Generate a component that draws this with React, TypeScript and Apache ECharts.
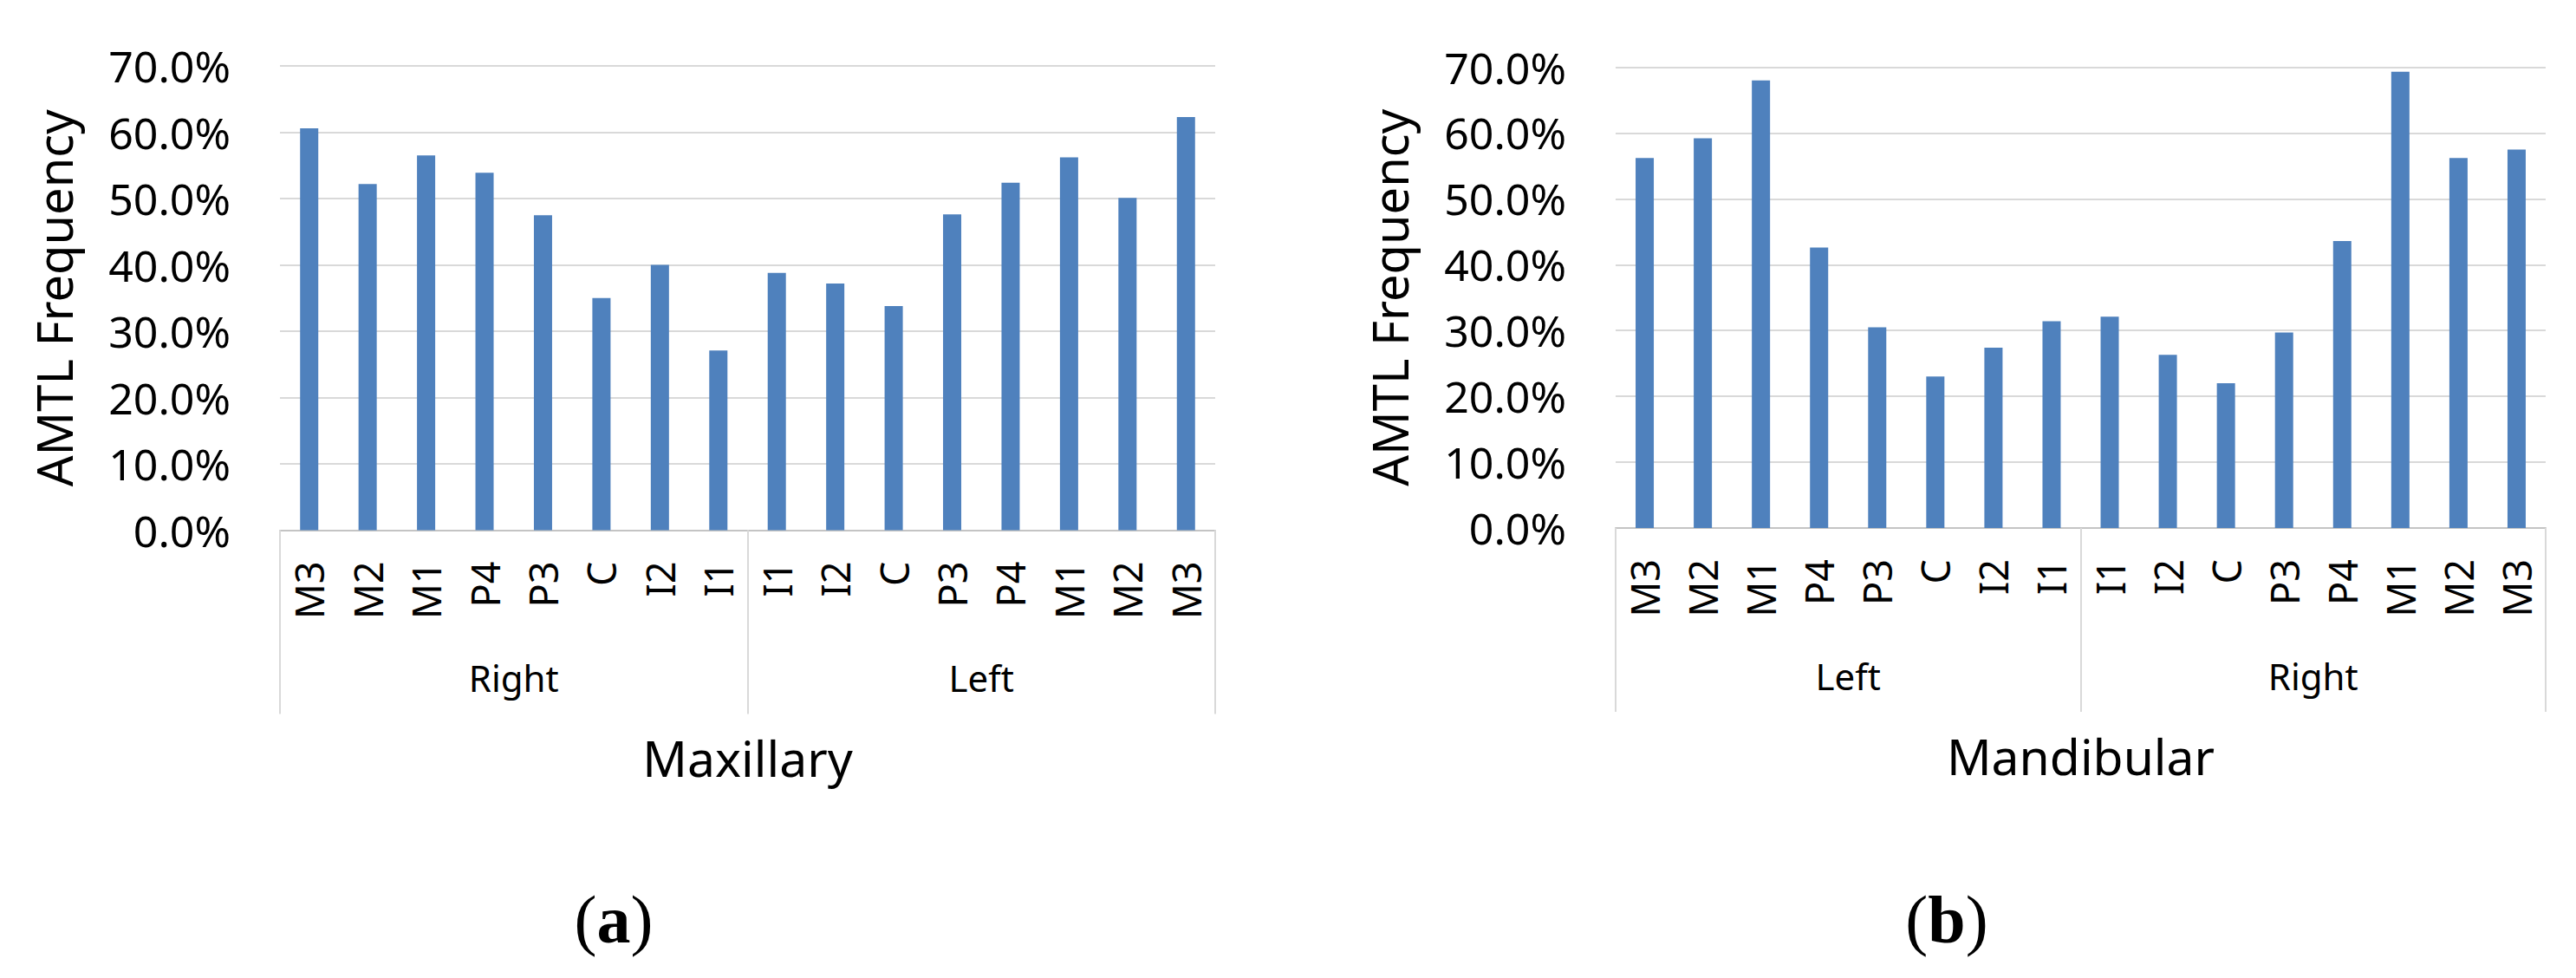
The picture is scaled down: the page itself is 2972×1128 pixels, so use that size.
import React, { useEffect, useRef } from "react";
import * as echarts from "echarts";

// ---- data ----
const maxillaryTeeth = ["M3", "M2", "M1", "P4", "P3", "C", "I2", "I1", "I1", "I2", "C", "P3", "P4", "M1", "M2", "M3"];
const maxillarySides = ["Right", "Left"];
const maxillaryValues = [60.6, 52.2, 56.5, 53.9, 47.5, 35.0, 40.0, 27.1, 38.8, 37.2, 33.8, 47.6, 52.4, 56.2, 50.1, 62.3];

const mandibularTeeth = ["M3", "M2", "M1", "P4", "P3", "C", "I2", "I1", "I1", "I2", "C", "P3", "P4", "M1", "M2", "M3"];
const mandibularSides = ["Left", "Right"];
const mandibularValues = [56.2, 59.2, 68.0, 42.6, 30.5, 23.0, 27.4, 31.4, 32.1, 26.3, 22.0, 29.7, 43.6, 69.3, 56.2, 57.5];

const yMin = 0;
const yMax = 70;
const yStep = 10;
const yTitle = "AMTL Frequency";
const panelTitles = ["Maxillary", "Mandibular"];
const panelTags = ["a", "b"];

const FONT = "'Noto Sans', 'Open Sans', sans-serif";
const SERIF = "'Liberation Serif', 'DejaVu Serif', serif";
const BAR = "#4F81BD";
const GRIDLINE = "#d9d9d9";
const TEXT = "#000000";

export default function App() {
  const ref = useRef<HTMLDivElement>(null);

  useEffect(() => {
    if (!ref.current) return;
    const chart = echarts.init(ref.current, undefined, { renderer: "svg" });

    const grids = [
      { left: 323, top: 76, width: 1079, height: 535.5 },
      { left: 1864, top: 77.5, width: 1073, height: 531.5 },
    ];
    const teeth = [maxillaryTeeth, mandibularTeeth];
    const sides = [maxillarySides, mandibularSides];
    const values = [maxillaryValues, mandibularValues];
    const tagX = [708, 2246];

    const xAxis: any[] = [];
    const yAxis: any[] = [];
    const series: any[] = [];

    [0, 1].forEach((g) => {
      xAxis.push({
        type: "category",
        gridIndex: g,
        data: teeth[g],
        position: "bottom",
        axisLine: { show: true, lineStyle: { color: "#c4c4c4", width: 2 } },
        axisTick: { show: false },
        axisLabel: {
          rotate: 90,
          interval: 0,
          margin: 36,
          fontSize: 45,
          fontFamily: FONT,
          color: TEXT,
        },
        splitLine: { show: false },
      });
      xAxis.push({
        type: "category",
        gridIndex: g,
        data: sides[g],
        position: "bottom",
        axisLine: { show: false },
        axisTick: {
          show: true,
          interval: 0,
          length: 212,
          lineStyle: { color: GRIDLINE, width: 2 },
        },
        axisLabel: {
          interval: 0,
          margin: 149,
          fontSize: 42,
          fontFamily: FONT,
          color: TEXT,
        },
        name: panelTitles[g],
        nameLocation: "middle",
        nameGap: 234,
        nameTextStyle: { fontSize: 57, fontFamily: FONT, color: TEXT },
        splitLine: { show: false },
      });
      yAxis.push({
        type: "value",
        gridIndex: g,
        min: yMin,
        max: yMax,
        interval: yStep,
        axisLine: { show: false },
        axisTick: { show: false },
        axisLabel: {
          margin: 57,
          fontSize: 50,
          fontFamily: FONT,
          color: TEXT,
          formatter: (v: number) => `${v.toFixed(1)}%`,
        },
        splitLine: { show: true, lineStyle: { color: GRIDLINE, width: 2 } },
        name: yTitle,
        nameLocation: "middle",
        nameRotate: 90,
        nameGap: 233,
        nameTextStyle: { fontSize: 56, fontFamily: FONT, color: TEXT },
      });
      series.push({
        type: "bar",
        xAxisIndex: g * 2,
        yAxisIndex: g,
        data: values[g],
        barWidth: 21,
        itemStyle: { color: BAR },
      });
    });

    chart.setOption({
      animation: false,
      backgroundColor: "#ffffff",
      grid: grids.map((gr) => ({ ...gr, containLabel: false })),
      xAxis,
      yAxis,
      series,
      graphic: panelTags.map((tag, i) => ({
        type: "text",
        x: tagX[i],
        y: 1060,
        style: {
          text: `{p|(}{b|${tag}}{p|)}`,
          align: "center",
          verticalAlign: "middle",
          rich: {
            p: { fontFamily: SERIF, fontSize: 78, fontWeight: "normal", fill: TEXT },
            b: { fontFamily: SERIF, fontSize: 78, fontWeight: "bold", fill: TEXT },
          },
        },
      })),
    });

    return () => chart.dispose();
  }, []);

  return (
    <div
      ref={ref}
      style={{ position: "absolute", left: 0, top: 0, width: 2972, height: 1128, background: "#fff" }}
    />
  );
}
